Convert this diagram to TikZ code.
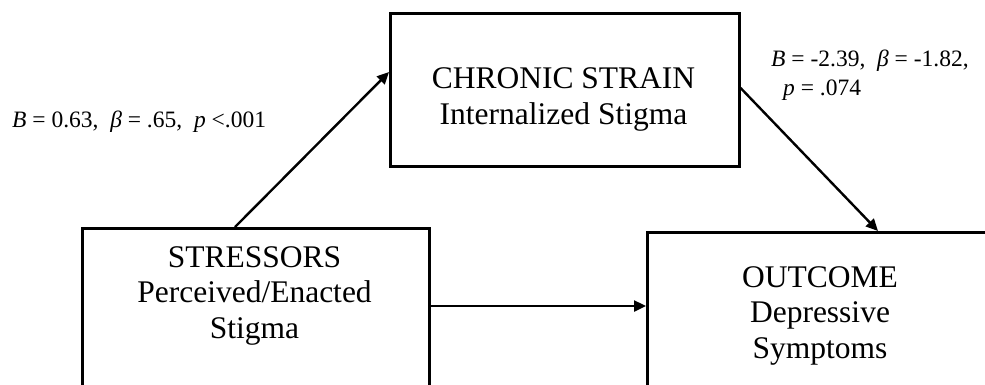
\documentclass[tikz,border=0pt]{standalone}
\usepackage{fontspec}
\setmainfont{Liberation Serif}
\usetikzlibrary{arrows.meta}
\begin{document}
\begin{tikzpicture}[x=1pt,y=-1pt,
  boxline/.style={draw, line width=2.6pt, rectangle, inner sep=0pt, anchor=north west},
  boxtext/.style={font=\fontsize{31.5}{35.5}\selectfont, align=center, anchor=base, inner sep=0pt},
  coef/.style={font=\fontsize{23.5}{29}\selectfont, anchor=base west, inner sep=0pt, align=left},
  link/.style={line width=2.4pt, -{Triangle[length=12pt,width=11pt]}}]
\useasboundingbox (0,0) rectangle (985,384);
\clip (0,0) rectangle (985,384);

% boxes (the lower two run past the page edge)
\node[boxline, minimum width=349pt, minimum height=153pt] (strain) at (389,12) {};
\node[boxline, minimum width=347pt, minimum height=200pt] (stress) at (81,227) {};
\node[boxline, minimum width=360pt, minimum height=200pt] (outcome) at (646,231) {};

% box texts (anchored at the baseline of the last line)
\node[boxtext] (straintxt) at (563.5,124) {CHRONIC STRAIN\\Internalized Stigma};
\node[boxtext] (stresstxt) at (254.5,338) {STRESSORS\\Perceived/Enacted\\Stigma};
\node[boxtext] (outcometxt) at (820,358) {OUTCOME\\Depressive\\Symptoms};

% paths
\draw[link] ([xshift=154pt]stress.north west) -- ([yshift=-60pt]strain.north west);
\draw[link] ([yshift=-76pt]strain.north east) -- ([xshift=232pt]outcome.north west);
\draw[link] (stress.east |- 0,306) -- (outcome.west |- 0,306);

% path coefficients
\node[coef] (coefa) at (12,127) {\textit{B} = 0.63,\ \ \textit{β} = .65,\ \ \textit{p} <.001};
\node[coef] (coefb) at (771,95) {\textit{B} = -2.39,\ \ \textit{β} = -1.82,\\\hspace*{12pt}\textit{p} = .074};
\end{tikzpicture}
\end{document}
